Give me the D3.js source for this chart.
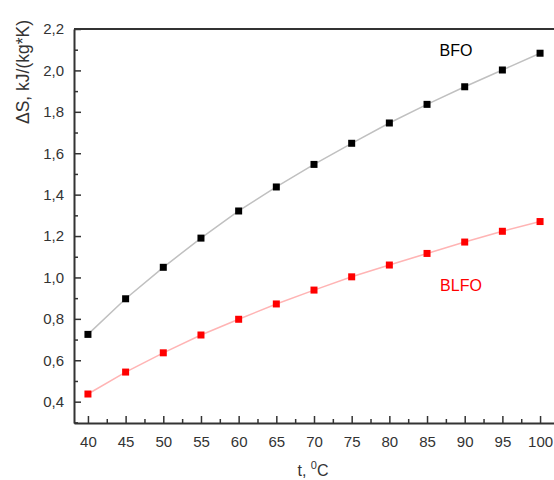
<!DOCTYPE html>
<html>
<head>
	<meta charset="utf-8">
	<title></title>
	<style>
		body { margin: 0; background: #fff; }
		text { font-family: Arial, "Liberation Sans", sans-serif; }
	</style>
</head>
<body>
	<svg id="container" width="554" height="480"></svg>
<script src="https://d3js.org/d3.v7.min.js"></script>
<script>
	// data
	let temps = [40, 45, 50, 55, 60, 65, 70, 75, 80, 85, 90, 95, 100]
	let bfo = [0.725, 0.897, 1.049, 1.19, 1.321, 1.437, 1.546, 1.648, 1.746, 1.836, 1.921, 2.002, 2.083]
	let blfo = [0.437, 0.543, 0.636, 0.722, 0.798, 0.872, 0.939, 1.003, 1.06, 1.116, 1.171, 1.223, 1.27]
	let xTicks = [40, 45, 50, 55, 60, 65, 70, 75, 80, 85, 90, 95, 100]
	let yTicks = [0.4, 0.6, 0.8, 1.0, 1.2, 1.4, 1.6, 1.8, 2.0, 2.2]

	let svg = d3.select("#container")
	let mLeft = 74, mRight = 554, mTop = 29, mBottom = 423

	let x = d3.scaleLinear().domain([38.15, 101.85]).range([mLeft, mRight])
	let y = d3.scaleLinear().domain([0.297, 2.2]).range([mBottom, mTop])

	let comma = d => d3.format(".1f")(d).replace(".", ",")

	// minor ticks first, no labels
	let xMinor = xTicks.map(d => d + 2.5).filter(d => d < 101.8)
	let yMinor = yTicks.slice(0, -1).map(d => d + 0.1).concat([0.3])

	svg.append("g")
		.attr("transform", `translate(0,${mBottom})`)
		.call(d3.axisBottom(x).tickValues(xMinor).tickSize(-4).tickFormat(""))
		.call(g => g.select(".domain").remove())
	svg.append("g")
		.attr("transform", `translate(${mLeft},0)`)
		.call(d3.axisLeft(y).tickValues(yMinor).tickSize(-4).tickFormat(""))
		.call(g => g.select(".domain").remove())

	let xAxis = svg.append("g")
		.attr("transform", `translate(0,${mBottom})`)
		.call(d3.axisBottom(x).tickValues(xTicks).tickSize(-7).tickPadding(10).tickSizeOuter(0))
	let yAxis = svg.append("g")
		.attr("transform", `translate(${mLeft},0)`)
		.call(d3.axisLeft(y).tickValues(yTicks).tickSize(-7).tickPadding(10).tickSizeOuter(0).tickFormat(comma))

	for (let g of [xAxis, yAxis]) {
		g.selectAll("text").attr("font-size", 15).attr("fill", "#333")
			.attr("font-family", "Arial, 'Liberation Sans', sans-serif")
	}
	xAxis.selectAll("text").attr("dy", "0.9em")
	svg.selectAll(".tick line").attr("stroke", "#333").attr("stroke-width", 1.5)
	svg.selectAll(".domain").attr("stroke", "#333").attr("stroke-width", 2)

	// top frame line
	svg.append("line")
		.attr("x1", mLeft).attr("x2", mRight)
		.attr("y1", mTop).attr("y2", mTop)
		.attr("stroke", "#333").attr("stroke-width", 2)

	let line = d3.line().x((d, i) => x(temps[i])).y(d => y(d))

	let series = [
		{ values: bfo, line: "#c0c0c0", mark: "#000" },
		{ values: blfo, line: "#ffb4b4", mark: "#ff0000" }
	]

	series.forEach(s => {
		svg.append("path")
			.datum(s.values)
			.attr("d", line)
			.attr("fill", "none")
			.attr("stroke", s.line)
			.attr("stroke-width", 1.5)
		svg.append("g").selectAll("rect")
			.data(s.values)
			.enter().append("rect")
			.attr("x", (d, i) => x(temps[i]) - 3.5)
			.attr("y", d => y(d) - 3.5)
			.attr("width", 7)
			.attr("height", 7)
			.attr("fill", s.mark)
	})

	svg.append("text")
		.attr("x", 456).attr("y", 56)
		.attr("text-anchor", "middle")
		.attr("font-size", 16)
		.attr("fill", "#000")
		.text("BFO")
	svg.append("text")
		.attr("x", 461).attr("y", 291)
		.attr("text-anchor", "middle")
		.attr("font-size", 16)
		.attr("fill", "#ff0000")
		.text("BLFO")

	// axis titles
	svg.append("text")
		.attr("transform", "translate(29,72) rotate(-90)")
		.attr("text-anchor", "middle")
		.attr("font-size", 17.5)
		.attr("fill", "#333")
		.text("ΔS, kJ/(kg*K)")

	let xt = svg.append("text")
		.attr("x", 313).attr("y", 476)
		.attr("text-anchor", "middle")
		.attr("font-size", 16)
		.attr("fill", "#333")
	xt.append("tspan").text("t, ")
	xt.append("tspan").attr("font-size", 11).attr("dy", -7).text("0")
	xt.append("tspan").attr("dy", 7).text("C")
</script>
</body>
</html>
